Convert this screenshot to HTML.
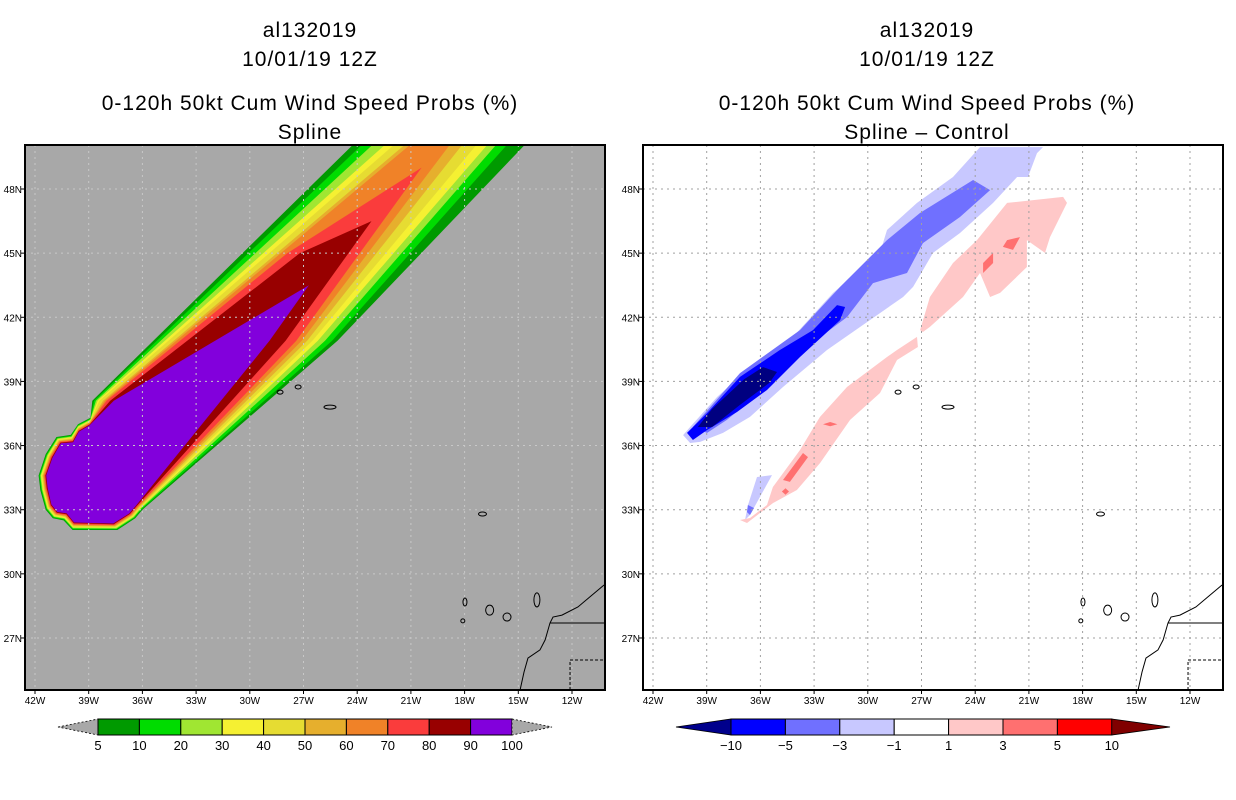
<!DOCTYPE html>
<html><head><meta charset="utf-8"><style>
html,body{margin:0;padding:0;background:#fff;}
svg{display:block;font-family:"Liberation Sans",sans-serif;}
.t{font-size:21px;letter-spacing:1px;text-anchor:middle;fill:#000;}
.ax{font-size:10px;fill:#000;}
.cb{font-size:13px;fill:#000;text-anchor:middle;}
</style></head><body>
<svg id="chart" width="1236" height="800" viewBox="0 0 1236 800">
<defs>
<clipPath id="clipL"><rect x="25" y="145" width="580" height="545"/></clipPath>
<clipPath id="clipR"><rect x="643" y="145" width="580" height="545"/></clipPath>
</defs>
<g>
<text class="t" x="310" y="37">al132019</text>
<text class="t" x="310" y="66">10/01/19 12Z</text>
<text class="t" x="310" y="110">0-120h 50kt Cum Wind Speed Probs (%)</text>
<text class="t" x="310" y="139">Spline</text>
</g>
<g>
<text class="t" x="927" y="37">al132019</text>
<text class="t" x="927" y="66">10/01/19 12Z</text>
<text class="t" x="927" y="110">0-120h 50kt Cum Wind Speed Probs (%)</text>
<text class="t" x="927" y="139">Spline – Control</text>
</g>
<rect x="25" y="145" width="580" height="545" fill="#a8a8a8"/>
<rect x="643" y="145" width="580" height="545" fill="#ffffff"/>
<g id="gL" clip-path="url(#clipL)"></g>
<g id="gR" clip-path="url(#clipR)"></g>
<rect x="25" y="145" width="580" height="545" fill="none" stroke="#000" stroke-width="2"/>
<rect x="643" y="145" width="580" height="545" fill="none" stroke="#000" stroke-width="2"/>
<g id="axes"></g>
<g id="bars"></g>
</svg>
<script>
// ---- axis data ----
const lonTicks=[-42,-39,-36,-33,-30,-27,-24,-21,-18,-15,-12];
const latTicks=[48,45,42,39,36,33,30,27];
// ---- left panel contour data (probability levels) ----
const levels=[5,10,20,30,40,50,60,70,80,90];
const capLon=[-38.9,-39.6,-40.0,-40.8,-41.4,-41.8,-41.7,-41.4,-41.0,-40.4,-39.9,-37.4,-36.4,-36.0];
const capLat=[37.3,37.0,36.5,36.4,35.6,34.6,33.9,33.0,32.6,32.5,32.05,32.05,32.6,33.0];
const upperLon38=[-38.8,-38.7,-38.6,-38.5,-38.4,-38.2,-38.1,-38.0,-37.8,-37.6];
const rightLon41=[-25.1,-25.4,-25.8,-26.2,-26.5,-26.8,-27.1,-27.4,-28.0,-28.9];
const rightLonTop=[-14.6,-15.6,-16.2,-16.7,-17.3,-18.1,-18.8,null,null,null];
const upperLonTop=[-24.2,-23.7,-23.1,-22.4,-21.9,-21.3,-21.0,null,null,null];
const tipLon=[null,null,null,null,null,null,null,-20.4,-23.2,-26.7];
const tipLat=[null,null,null,null,null,null,null,49.0,46.5,43.5];
const upperMidLon=[null,null,null,null,null,null,null,-27.9,-27.2,null];
const upperMidLat=[null,null,null,null,null,null,null,45.0,45.0,null];
// ---- right panel difference contours ----
const diffLevels=[-1,-3,-5,-10,1,3];
const lightBlueLon=[-40.32,-39.93,-38.42,-36.58,-34.18,-31.94,-29.32,-28.93,-27.25,-25.24,-23.73,-20.21,-20.55,-21.05,-21.66,-23.0,-24.85,-26.36,-27.47,-28.03,-29.88,-32.28,-34.74,-36.58,-38.09,-39.37,-39.93];
const lightBlueLat=[36.49,36.87,38.27,39.67,41.08,43.14,45.01,46.08,47.35,48.56,49.96,49.96,49.68,48.56,48.56,47.35,45.94,45.01,43.42,42.95,41.87,40.47,38.74,37.34,36.59,36.17,36.12];
const medBlueLon=[-39.77,-37.14,-33.79,-31.55,-28.93,-27.08,-24.12,-23.17,-24.85,-26.92,-27.81,-29.71,-31.16,-33.40,-35.63,-37.87,-38.98];
const medBlueLat=[36.87,39.39,41.40,43.42,45.61,46.88,48.42,47.95,46.69,45.47,44.07,43.60,42.01,40.61,38.74,37.20,36.59];
const blueLon=[-40.10,-38.98,-37.14,-34.91,-33.06,-31.72,-31.27,-31.55,-33.79,-35.63,-37.31,-38.98,-39.77];
const blueLat=[36.59,37.52,39.21,40.47,41.40,42.57,42.48,41.87,40.14,38.60,37.57,36.73,36.26];
const navyLon=[-39.5,-38.7,-36.9,-35.85,-35.07,-35.5,-37.14,-38.7];
const navyLat=[36.87,37.71,39.11,39.67,39.44,38.93,37.90,36.87];
const lbFragLon=[-36.19,-35.35,-36.58,-36.86,-36.69];
const lbFragLat=[34.53,34.62,32.75,32.52,33.22];
const mbFragLon=[-36.7,-36.36,-36.58,-36.75];
const mbFragLat=[33.22,33.08,32.75,32.89];
const pinkLowLon=[-37.14,-36.58,-35.63,-35.30,-33.79,-32.67,-31.16,-28.93,-28.37,-27.25,-27.20,-28.37,-29.32,-30.99,-32.67,-33.96,-35.30,-36.75];
const pinkLowLat=[32.52,32.61,33.22,34.06,35.79,37.34,38.74,40.14,40.47,41.08,40.61,40.0,38.46,37.20,35.18,33.92,33.31,32.38];
const pinkUpLon=[-27.08,-26.53,-25.24,-23.90,-22.22,-19.09,-18.87,-19.82,-20.10,-21.11,-21.11,-22.61,-23.17,-23.73,-24.68,-26.53,-26.92];
const pinkUpLat=[41.40,42.95,44.54,45.61,47.35,47.63,47.35,45.75,45.01,45.61,44.35,43.14,42.95,44.07,42.95,41.55,41.31];
const redALon=[-22.22,-21.50,-21.89,-22.45], redALat=[45.61,45.75,45.15,45.29];
const redBLon=[-23.56,-23.0,-23.0,-23.56], redBLat=[44.54,45.01,44.54,44.07];
const redCLon=[-34.74,-33.62,-33.34,-34.35], redCLat=[34.39,35.65,35.46,34.30];
const redDLon=[-34.6,-34.4,-34.6,-34.8], redDLat=[34.0,33.85,33.7,33.85];
const redELon=[-32.5,-32.1,-31.7,-32.1], redELat=[37.0,37.1,37.0,36.9];
// ---- map features ----
const islandLon=[-28.31,-27.3,-25.52,-17.0,-17.98,-16.6,-15.63,-13.96,-18.1];
const islandLat=[38.5,38.74,37.8,32.8,28.68,28.3,27.98,28.78,27.8];
const islandRx=[3,3,6,4,2,4,4,3,2];
const islandRy=[2,2,2,2,4,5,4,7,2];
const coastLon=[-10.21,-11.0,-11.67,-12.56,-13.06,-13.23,-13.5,-13.79,-14.46,-14.68,-14.9];
const coastLat=[29.48,28.92,28.45,28.07,27.98,27.70,26.91,26.44,26.06,25.41,24.57];
// ---- colorbars ----
const probLabels=["5","10","20","30","40","50","60","70","80","90","100"];
const diffLabels=["-10","-5","-3","-1","1","3","5","10"];

const NS='http://www.w3.org/2000/svg';
const levelColors=['#009a00','#00dc00','#a0e632','#f5f032','#e6dc32','#e6af2d','#f08228','#fa3c3c','#980000','#8200dc'];
function px(lon,off){return off+35+(lon+42)*17.9;}
function py(lat){return 189+(48-lat)*21.38;}
function mk(tag,attrs,parent){const e=document.createElementNS(NS,tag);for(const k in attrs)e.setAttribute(k,attrs[k]);parent.appendChild(e);return e;}
function poly(lons,lats,off,fill,parent,name){
  const pts=lons.map((l,i)=>px(l,off).toFixed(1)+','+py(lats[i]).toFixed(1)).join(' ');
  const e=mk('polygon',{points:pts,fill:fill},parent);
  
  
  return e;
}
const gL=document.getElementById('gL'), gR=document.getElementById('gR');
const cxC=px(-39.3,0), cyC=py(34.6);
levels.forEach((lv,i)=>{
  const pts=[];
  capLon.forEach((l,j)=>{
    let x=px(l,0),y=py(capLat[j]);const dx=cxC-x,dy=cyC-y,d=Math.hypot(dx,dy)||1;
    const s=i*0.85;pts.push([x+dx/d*s,y+dy/d*s]);
  });
  pts.push([px(rightLon41[i],0),py(40.9)]);
  if(tipLon[i]===null){
    pts.push([px(rightLonTop[i],0),py(50.1)]);
    pts.push([px(upperLonTop[i],0),py(50.1)]);
  } else {
    pts.push([px(tipLon[i],0),py(tipLat[i])]);
    if(upperMidLon[i]!==null)pts.push([px(upperMidLon[i],0),py(upperMidLat[i])]);
  }
  pts.push([px(upperLon38[i],0),py(38.1)]);
  const e=mk('polygon',{points:pts.map(p=>p[0].toFixed(1)+','+p[1].toFixed(1)).join(' '),fill:levelColors[i]},gL);
  
  
});
poly(lightBlueLon,lightBlueLat,618,'#c8c8ff',gR,'diff-contour-minus1');
poly(lbFragLon,lbFragLat,618,'#c8c8ff',gR,'diff-contour-minus1-fragment');
poly(medBlueLon,medBlueLat,618,'#7070ff',gR,'diff-contour-minus3');
poly(mbFragLon,mbFragLat,618,'#7070ff',gR,'diff-contour-minus3-fragment');
poly(blueLon,blueLat,618,'#0000ff',gR,'diff-contour-minus5');
poly(navyLon,navyLat,618,'#000080',gR,'diff-contour-minus10');
poly(pinkLowLon,pinkLowLat,618,'#ffc8c8',gR,'diff-contour-plus1-south');
poly(pinkUpLon,pinkUpLat,618,'#ffc8c8',gR,'diff-contour-plus1-north');
[[redALon,redALat],[redBLon,redBLat],[redCLon,redCLat],[redDLon,redDLat],[redELon,redELat]].forEach((r,k)=>{
  poly(r[0],r[1],618,'#ff7070',gR,'diff-contour-plus3-'+k);
});
[[gL,0,'#c8c8c8'],[gR,618,'#a0a0a0']].forEach(([g,off,gc])=>{
  lonTicks.forEach(l=>{const e=mk('line',{x1:px(l,off),x2:px(l,off),y1:145,y2:690,stroke:gc,'stroke-width':1,'stroke-dasharray':'2,4'},g);
    });
  latTicks.forEach(l=>{const e=mk('line',{x1:off+25,x2:off+605,y1:py(l),y2:py(l),stroke:gc,'stroke-width':1,'stroke-dasharray':'2,4'},g);
    });
  islandLon.forEach((l,i)=>{const e=mk('ellipse',{cx:px(l,off),cy:py(islandLat[i]),rx:islandRx[i],ry:islandRy[i],fill:'none',stroke:'#000','stroke-width':1},g);
    });
  const c=mk('polyline',{points:coastLon.map((l,i)=>px(l,off)+','+py(coastLat[i])).join(' '),fill:'none',stroke:'#000','stroke-width':1},g);
  
  const b1=mk('line',{x1:px(-13.23,off),y1:py(27.7),x2:off+605,y2:py(27.7),stroke:'#000','stroke-width':1},g);
  
  const b2=mk('polyline',{points:`${px(-12.11,off)},690 ${px(-12.11,off)},${py(25.97)} ${off+605},${py(25.97)}`,fill:'none',stroke:'#000','stroke-width':1,'stroke-dasharray':'3,2'},g);
  
});
const ax=document.getElementById('axes');
[0,618].forEach(off=>{
  lonTicks.forEach(l=>{
    const t=mk('text',{x:px(l,off),y:704,class:'ax','text-anchor':'middle'},ax);t.textContent=(-l)+'W';
    
    mk('line',{x1:px(l,off),x2:px(l,off),y1:690,y2:694,stroke:'#000'},ax);
  });
  latTicks.forEach(l=>{
    const t=mk('text',{x:off+22,y:py(l)+4,class:'ax','text-anchor':'end'},ax);t.textContent=l+'N';
    
    mk('line',{x1:off+21,x2:off+25,y1:py(l),y2:py(l),stroke:'#000'},ax);
  });
});
const bars=document.getElementById('bars');
const bw=41.4, bx0=98, by=719, bh=16;
let tri=mk('polygon',{points:`58,727 ${bx0},${by} ${bx0},${by+bh}`,fill:'#a8a8a8',stroke:'#000','stroke-dasharray':'2,2','stroke-width':0.8},bars);

levels.forEach((lv,i)=>{
  const r=mk('rect',{x:bx0+i*bw,y:by,width:bw,height:bh,fill:levelColors[i],stroke:'#000','stroke-width':1},bars);
  
});
tri=mk('polygon',{points:`${bx0+10*bw},${by} 552,727 ${bx0+10*bw},${by+bh}`,fill:'#a8a8a8',stroke:'#000','stroke-dasharray':'2,2','stroke-width':0.8},bars);

probLabels.forEach((s,i)=>{const t=mk('text',{x:bx0+i*bw,y:750,class:'cb'},bars);t.textContent=s;
  });
const diffColors=['#0000ff','#7070ff','#c8c8ff','#ffffff','#ffc8c8','#ff7070','#ff0000'];
const dw=54.4, dx0=731;
tri=mk('polygon',{points:`676,727 ${dx0},${by} ${dx0},${by+bh}`,fill:'#00008c',stroke:'#000','stroke-width':0.8},bars);

diffColors.forEach((c,i)=>{
  const r=mk('rect',{x:dx0+i*dw,y:by,width:dw,height:bh,fill:c,stroke:'#000','stroke-width':1},bars);
  
});
tri=mk('polygon',{points:`${dx0+7*dw},${by} 1170,727 ${dx0+7*dw},${by+bh}`,fill:'#800000',stroke:'#000','stroke-width':0.8},bars);

diffLabels.forEach((s,i)=>{const t=mk('text',{x:dx0+i*dw,y:750,class:'cb'},bars);t.textContent=s.replace('-','−');
  });
</script>
</body></html>
